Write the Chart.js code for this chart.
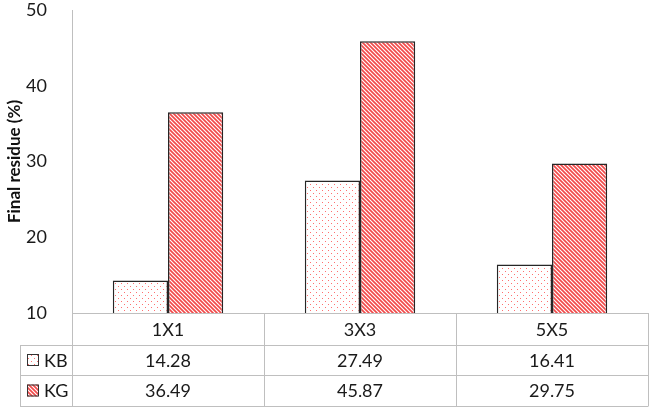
<!DOCTYPE html>
<html>
<head>
<meta charset="utf-8">
<script src="https://cdn.jsdelivr.net/npm/chart.js@4/dist/chart.umd.min.js"></script>
<style>
  html, body { margin: 0; padding: 0; background: #fff; }
  #wrap { width: 650px; height: 410px; position: relative; }
</style>
</head>
<body>
<div id="wrap"><canvas id="chart" width="650" height="410"></canvas></div>
<script>
// Data
const categories = ["1X1", "3X3", "5X5"];
const seriesNames = ["KB", "KG"];
const kbValues = [14.28, 27.49, 16.41];
const kgValues = [36.49, 45.87, 29.75];
const yTicks = [10, 20, 30, 40, 50];

const FONT = "Lato, 'Open Sans', sans-serif";
const GRID = "#bfbfbf";

// fill patterns
function dotPattern() {
  const c = document.createElement("canvas");
  c.width = 6; c.height = 6;
  const g = c.getContext("2d");
  g.fillStyle = "#fff";
  g.fillRect(0, 0, 6, 6);
  g.fillStyle = "#ff7070";
  g.fillRect(1, 1, 1, 1);
  g.fillRect(4, 4, 1, 1);
  return g.createPattern(c, "repeat");
}

function hatchPattern() {
  const c = document.createElement("canvas");
  c.width = 4; c.height = 4;
  const g = c.getContext("2d");
  g.fillStyle = "#fff";
  g.fillRect(0, 0, 4, 4);
  g.strokeStyle = "#f24a4a";
  g.lineWidth = 1.7;
  g.beginPath();
  g.moveTo(0, 0); g.lineTo(4, 4);
  g.moveTo(-1, 3); g.lineTo(1, 5);
  g.moveTo(3, -1); g.lineTo(5, 1);
  g.stroke();
  return g.createPattern(c, "repeat");
}

const fills = [dotPattern(), hatchPattern()];
const seriesValues = [kbValues, kgValues];

// data table under the plot
const dataTable = {
  id: "dataTable",
  afterDraw(chart) {
    const ctx = chart.ctx;
    const area = chart.chartArea;
    const x = chart.scales.x;
    const left = area.left, right = area.right;
    const tableLeft = 20;
    const rows = [area.bottom, area.bottom + 32, area.bottom + 62, area.bottom + 93];
    const colEdges = [left];
    categories.forEach((c, i) => {
      const next = i < categories.length - 1
        ? (x.getPixelForValue(i) + x.getPixelForValue(i + 1)) / 2
        : right;
      colEdges.push(next);
    });

    ctx.save();
    ctx.strokeStyle = GRID;
    ctx.lineWidth = 1;
    ctx.beginPath();
    // horizontal lines
    ctx.moveTo(left, rows[0] + 0.5); ctx.lineTo(right, rows[0] + 0.5);
    for (let r = 1; r < rows.length; r++) {
      ctx.moveTo(tableLeft, rows[r] + 0.5); ctx.lineTo(right, rows[r] + 0.5);
    }
    // vertical lines
    colEdges.forEach((cx) => {
      ctx.moveTo(Math.round(cx) + 0.5, rows[0]); ctx.lineTo(Math.round(cx) + 0.5, rows[3] + 0.5);
    });
    ctx.moveTo(tableLeft + 0.5, rows[1]); ctx.lineTo(tableLeft + 0.5, rows[3] + 0.5);
    ctx.stroke();

    ctx.fillStyle = "#1a1a1a";
    ctx.font = "18px " + FONT;
    ctx.textAlign = "center";
    ctx.textBaseline = "middle";
    categories.forEach((c, i) => {
      const cx = (colEdges[i] + colEdges[i + 1]) / 2;
      ctx.fillText(c, cx, (rows[0] + rows[1]) / 2 + 1);
      seriesValues.forEach((vals, s) => {
        ctx.fillText(vals[i].toFixed(2), cx, (rows[s + 1] + rows[s + 2]) / 2 + 1);
      });
    });

    // legend keys
    seriesNames.forEach((name, s) => {
      const cy = (rows[s + 1] + rows[s + 2]) / 2;
      ctx.fillStyle = fills[s];
      ctx.fillRect(27, cy - 6, 12, 12);
      ctx.strokeStyle = "#333";
      ctx.lineWidth = 1;
      ctx.strokeRect(27.5, cy - 5.5, 11, 11);
      ctx.fillStyle = "#1a1a1a";
      ctx.textAlign = "left";
      ctx.fillText(name, 44, cy + 1);
    });
    ctx.restore();
  }
};

new Chart(document.getElementById("chart"), {
  type: "bar",
  data: {
    labels: categories,
    datasets: seriesNames.map((name, s) => ({
      label: name,
      data: seriesValues[s],
      backgroundColor: fills[s],
      borderColor: "#262626",
      borderWidth: 1.5,
      borderSkipped: false,
      categoryPercentage: 0.575,
      barPercentage: 1.0
    }))
  },
  options: {
    responsive: false,
    animation: false,
    layout: { padding: { top: 10, right: 2, bottom: 97, left: 4 } },
    plugins: { legend: { display: false }, tooltip: { enabled: false } },
    scales: {
      x: {
        display: false,
        grid: { display: false }
      },
      y: {
        min: 10,
        max: 50,
        afterFit(scale) {
          scale.width = 68;
          scale.paddingTop = 0;
          scale.paddingBottom = 0;
        },
        afterBuildTicks(scale) { scale.ticks = yTicks.map((v) => ({ value: v })); },
        grid: { display: false },
        border: { display: true, color: GRID, width: 1 },
        ticks: {
          padding: 17,
          color: "#1a1a1a",
          font: { family: FONT, size: 18 }
        },
        title: {
          display: true,
          text: "Final residue (%)",
          color: "#111",
          padding: { top: 0, bottom: 0 },
          font: { family: FONT, size: 17, weight: "bold" }
        }
      }
    }
  },
  plugins: [dataTable]
});
</script>
</body>
</html>
